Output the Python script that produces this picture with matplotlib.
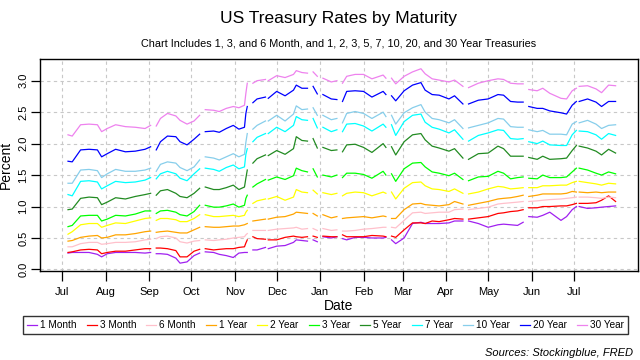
import matplotlib
matplotlib.use("Agg")
import matplotlib.pyplot as plt
import matplotlib.dates as mdates
import pandas as pd
import numpy as np

plt.rcParams['font.family'] = ['Liberation Sans', 'DejaVu Sans']

# sample dates (business days), segment by segment
dates = [
    "2016-07-05", "2016-07-08", "2016-07-14", "2016-07-20", "2016-07-26", "2016-07-29",
    "2016-08-02", "2016-08-08", "2016-08-15", "2016-08-22", "2016-08-29", "2016-09-02",
    "2016-09-06", "2016-09-09", "2016-09-14", "2016-09-20", "2016-09-23", "2016-09-28",
    "2016-10-03", "2016-10-07",
    "2016-10-11", "2016-10-17", "2016-10-21", "2016-10-26", "2016-10-31", "2016-11-04",
    "2016-11-08", "2016-11-09", "2016-11-10",
    "2016-11-14", "2016-11-17", "2016-11-23",
    "2016-11-25", "2016-12-01", "2016-12-07", "2016-12-13", "2016-12-15", "2016-12-19",
    "2016-12-23",
    "2016-12-27", "2016-12-30",
    "2017-01-03", "2017-01-09", "2017-01-13",
    "2017-01-17", "2017-01-20", "2017-01-26", "2017-02-01", "2017-02-07", "2017-02-15",
    "2017-02-17",
    "2017-02-21", "2017-02-24", "2017-03-02", "2017-03-08", "2017-03-14", "2017-03-17",
    "2017-03-22", "2017-03-27", "2017-04-03", "2017-04-07", "2017-04-13",
    "2017-04-17", "2017-04-24", "2017-05-01", "2017-05-08", "2017-05-12", "2017-05-17",
    "2017-05-22", "2017-05-26",
    "2017-05-30", "2017-06-05", "2017-06-09", "2017-06-14", "2017-06-22", "2017-06-26",
    "2017-06-30", "2017-07-03",
    "2017-07-05", "2017-07-11", "2017-07-17", "2017-07-21", "2017-07-26", "2017-07-31",
]

# market holidays -> no value, the line breaks there
holidays = ["2016-09-05", "2016-10-10", "2016-11-11", "2016-11-24", "2016-12-26",
            "2017-01-02", "2017-01-16", "2017-02-20", "2017-04-14", "2017-05-29",
            "2017-07-04"]

m1 = [.26, .27, .27, .27, .24, .20, .25, .27, .27, .27, .26, .27,
      .25, .25, .24, .18, .10, .12, .22, .26,
      .28, .27, .24, .22, .19, .26, .27, .27, .27,
      .31, .31, .35,
      .33, .37, .38, .43, .47, .46, .45,
      .47, .44,
      .52, .50, .52,
      .49, .47, .51, .51, .50, .50, .51,
      .47, .41, .50, .73, .75, .73, .73, .73, .74, .77, .77,
      .77, .73, .67, .71, .72, .71, .70, .75,
      .84, .83, .86, .91, .78, .84, .95, 1.00,
      1.00, .97, .98, .99, 1.00, 1.01]
m3 = [.27, .28, .31, .32, .31, .25, .27, .29, .29, .31, .33, .33,
      .34, .34, .33, .30, .20, .20, .29, .32,
      .33, .31, .32, .33, .33, .35, .36, .42, .47,
      .52, .49, .48,
      .47, .47, .51, .53, .52, .51, .52,
      .53, .51,
      .53, .52, .52,
      .55, .52, .52, .52, .54, .53, .52,
      .53, .51, .63, .74, .74, .73, .77, .76, .79, .81, .80,
      .80, .82, .84, .89, .90, .92, .93, .95,
      .98, .98, 1.00, 1.00, 1.01, 1.01, 1.03, 1.05,
      1.05, 1.05, 1.06, 1.10, 1.17, 1.08]
m6 = [.36, .36, .41, .43, .43, .40, .41, .43, .43, .44, .47, .48,
      .49, .52, .53, .50, .44, .42, .45, .46,
      .47, .46, .47, .48, .50, .51, .52, .55, .57,
      .62, .62, .62,
      .62, .64, .65, .66, .67, .64, .65,
      .65, .62,
      .65, .62, .63,
      .61, .61, .62, .64, .65, .67, .67,
      .67, .66, .78, .90, .91, .89, .90, .91, .91, .95, .96,
      .95, .97, .99, 1.04, 1.05, 1.06, 1.07, 1.08,
      1.08, 1.09, 1.10, 1.11, 1.12, 1.13, 1.14, 1.15,
      1.15, 1.15, 1.14, 1.13, 1.15, 1.14]
y1 = [.45, .46, .51, .53, .54, .50, .51, .55, .55, .57, .60, .61,
      .59, .60, .61, .59, .58, .58, .63, .67,
      .68, .67, .67, .68, .69, .69, .71, .72, .73,
      .77, .78, .80,
      .80, .83, .84, .88, .91, .90, .89,
      .89, .85,
      .87, .82, .84,
      .81, .82, .83, .84, .82, .85, .84,
      .81, .81, .95, 1.04, 1.05, 1.03, 1.02, 1.01, 1.03, 1.08, 1.04,
      1.02, 1.05, 1.08, 1.12, 1.13, 1.14, 1.16, 1.18,
      1.16, 1.18, 1.20, 1.20, 1.20, 1.21, 1.24, 1.23,
      1.23, 1.22, 1.23, 1.22, 1.23, 1.23]
y2 = [.56, .60, .71, .73, .73, .67, .70, .74, .73, .77, .81, .82,
      .78, .81, .81, .79, .76, .76, .81, .87,
      .87, .84, .84, .85, .86, .84, .86, .91, .94,
      1.05, 1.09, 1.12,
      1.12, 1.16, 1.10, 1.15, 1.27, 1.23, 1.22,
      1.26, 1.20,
      1.22, 1.19, 1.21,
      1.17, 1.21, 1.23, 1.22, 1.17, 1.23, 1.21,
      1.23, 1.12, 1.29, 1.38, 1.39, 1.33, 1.28, 1.27, 1.24, 1.28, 1.21,
      1.20, 1.23, 1.28, 1.32, 1.31, 1.28, 1.29, 1.30,
      1.30, 1.30, 1.33, 1.33, 1.34, 1.34, 1.38, 1.40,
      1.40, 1.38, 1.36, 1.34, 1.37, 1.36]
y3 = [.68, .70, .85, .86, .86, .77, .80, .86, .85, .88, .93, .93,
      .89, .93, .94, .91, .87, .85, .92, 1.02,
      1.02, .99, .99, 1.01, 1.04, .99, 1.02, 1.13, 1.18,
      1.31, 1.36, 1.43,
      1.42, 1.47, 1.43, 1.49, 1.61, 1.57, 1.55,
      1.60, 1.47,
      1.50, 1.47, 1.50,
      1.46, 1.53, 1.53, 1.51, 1.45, 1.56, 1.50,
      1.52, 1.40, 1.60, 1.69, 1.70, 1.63, 1.55, 1.53, 1.49, 1.53, 1.43,
      1.41, 1.47, 1.48, 1.56, 1.53, 1.44, 1.46, 1.47,
      1.45, 1.44, 1.50, 1.46, 1.46, 1.47, 1.55, 1.61,
      1.61, 1.58, 1.53, 1.50, 1.55, 1.52]
y5 = [.95, .96, 1.13, 1.15, 1.14, 1.03, 1.07, 1.14, 1.12, 1.16, 1.19, 1.21,
      1.18, 1.25, 1.27, 1.21, 1.16, 1.14, 1.21, 1.29,
      1.31, 1.27, 1.27, 1.30, 1.34, 1.27, 1.31, 1.45, 1.58,
      1.69, 1.76, 1.82,
      1.81, 1.89, 1.83, 1.92, 2.11, 2.05, 2.04,
      2.08, 1.93,
      1.94, 1.89, 1.90,
      1.87, 1.98, 1.99, 1.94, 1.86, 2.00, 1.94,
      1.95, 1.82, 2.03, 2.14, 2.16, 2.06, 1.96, 1.93, 1.88, 1.92, 1.77,
      1.75, 1.84, 1.85, 1.96, 1.92, 1.80, 1.80, 1.80,
      1.78, 1.75, 1.80, 1.75, 1.76, 1.77, 1.89, 1.97,
      1.96, 1.93, 1.88, 1.82, 1.91, 1.85]
y7 = [1.19, 1.17, 1.40, 1.41, 1.39, 1.28, 1.33, 1.40, 1.38, 1.39, 1.42, 1.46,
      1.44, 1.52, 1.56, 1.52, 1.45, 1.41, 1.52, 1.60,
      1.61, 1.59, 1.56, 1.62, 1.66, 1.60, 1.63, 1.83, 1.92,
      2.03, 2.10, 2.16,
      2.16, 2.26, 2.19, 2.29, 2.43, 2.38, 2.37,
      2.40, 2.25,
      2.26, 2.19, 2.22,
      2.19, 2.31, 2.32, 2.28, 2.20, 2.31, 2.26,
      2.30, 2.13, 2.35, 2.45, 2.47, 2.34, 2.26, 2.23, 2.17, 2.22, 2.07,
      2.04, 2.13, 2.17, 2.22, 2.21, 2.08, 2.07, 2.08,
      2.03, 2.00, 2.04, 1.98, 1.97, 1.97, 2.14, 2.21,
      2.20, 2.19, 2.14, 2.07, 2.16, 2.13]
y10 = [1.37, 1.37, 1.58, 1.59, 1.57, 1.46, 1.52, 1.59, 1.56, 1.56, 1.58, 1.61,
       1.56, 1.67, 1.71, 1.69, 1.62, 1.57, 1.63, 1.74,
       1.79, 1.77, 1.74, 1.79, 1.84, 1.79, 1.83, 2.02, 2.16,
       2.23, 2.29, 2.36,
       2.36, 2.45, 2.36, 2.47, 2.60, 2.54, 2.55,
       2.57, 2.45,
       2.45, 2.38, 2.40,
       2.33, 2.48, 2.51, 2.48, 2.40, 2.50, 2.43,
       2.45, 2.31, 2.49, 2.57, 2.62, 2.50, 2.40, 2.38, 2.33, 2.38, 2.24,
       2.25, 2.29, 2.33, 2.40, 2.39, 2.27, 2.26, 2.26,
       2.22, 2.19, 2.21, 2.15, 2.15, 2.14, 2.31, 2.35,
       2.33, 2.37, 2.31, 2.24, 2.29, 2.30]
y20 = [1.72, 1.71, 1.90, 1.91, 1.90, 1.79, 1.84, 1.91, 1.87, 1.88, 1.91, 1.95,
       1.90, 2.03, 2.12, 2.11, 2.03, 1.98, 2.07, 2.15,
       2.19, 2.20, 2.18, 2.24, 2.29, 2.23, 2.26, 2.48, 2.59,
       2.65, 2.71, 2.74,
       2.72, 2.83, 2.76, 2.85, 2.93, 2.88, 2.88,
       2.91, 2.79,
       2.78, 2.71, 2.70,
       2.67, 2.83, 2.84, 2.83, 2.74, 2.83, 2.78,
       2.76, 2.68, 2.84, 2.93, 2.97, 2.85, 2.78, 2.77, 2.71, 2.76, 2.63,
       2.63, 2.69, 2.71, 2.78, 2.77, 2.67, 2.66, 2.66,
       2.59, 2.56, 2.56, 2.52, 2.49, 2.47, 2.61, 2.67,
       2.67, 2.71, 2.66, 2.59, 2.67, 2.67]
y30 = [2.14, 2.12, 2.30, 2.31, 2.30, 2.19, 2.24, 2.30, 2.27, 2.26, 2.24, 2.29,
       2.28, 2.40, 2.48, 2.44, 2.37, 2.31, 2.36, 2.45,
       2.54, 2.53, 2.51, 2.56, 2.59, 2.57, 2.61, 2.80, 2.96,
       2.96, 3.00, 3.02,
       3.00, 3.08, 3.05, 3.10, 3.16, 3.13, 3.12,
       3.14, 3.07,
       3.04, 2.98, 3.00,
       2.96, 3.07, 3.10, 3.10, 3.03, 3.09, 3.04,
       3.04, 2.95, 3.07, 3.14, 3.19, 3.11, 3.03, 3.01, 2.98, 3.01, 2.91,
       2.89, 2.96, 3.00, 3.03, 3.02, 2.96, 2.95, 2.95,
       2.86, 2.84, 2.88, 2.80, 2.72, 2.71, 2.84, 2.88,
       2.91, 2.92, 2.87, 2.81, 2.93, 2.92]

labels = ["1 Month", "3 Month", "6 Month", "1 Year", "2 Year", "3 Year",
          "5 Year", "7 Year", "10 Year", "20 Year", "30 Year"]
colors = ["#A020F0", "#FF0000", "#FFC0CB", "#FFA500", "#FFFF00", "#00FF00",
          "#228B22", "#00FFFF", "#87CEEB", "#0000FF", "#EE82EE"]
series = [m1, m3, m6, y1, y2, y3, y5, y7, y10, y20, y30]
month_ticks = pd.date_range("2016-07-01", "2017-07-01", freq="MS")

df = pd.DataFrame(dict(zip(labels, series)), index=pd.to_datetime(dates))
df = df.reindex(df.index.union(pd.to_datetime(holidays)))

fig = plt.figure(figsize=(6.4, 3.6), dpi=100)
ax = fig.add_axes([40 / 640, 1 - 270.7 / 360, 598 / 640, 211.7 / 360])

for name, c in zip(labels, colors):
    ax.plot(df.index, df[name], color=c, lw=0.9, label=name)

ax.set_xlim(pd.Timestamp("2016-06-15"), pd.Timestamp("2017-08-16"))
ax.set_ylim(-0.02, 3.345)
ax.set_yticks(np.arange(0, 3.01, 0.5))
ax.yaxis.set_major_formatter(matplotlib.ticker.FormatStrFormatter("%.1f"))
ax.set_xticks(month_ticks)
ax.xaxis.set_major_formatter(mdates.DateFormatter("%b"))
ax.grid(True, color="#c8c8c8", linestyle=(0, (3, 3)), lw=0.8)
ax.tick_params(axis="x", length=7.5, width=0.9, labelsize=8, pad=4)
ax.tick_params(axis="y", length=6.5, width=0.9, labelsize=8, labelrotation=90, pad=2)
for lab in ax.get_yticklabels():
    lab.set_verticalalignment("center")
for s in ax.spines.values():
    s.set_linewidth(1.0)
ax.set_xlabel("Date", fontsize=10, labelpad=2)
ax.set_ylabel("Percent", fontsize=10, labelpad=4)

fig.text(339 / 640, 1 - 18 / 360, "US Treasury Rates by Maturity", ha="center", va="center", fontsize=12.5)
fig.text(339 / 640, 1 - 44 / 360,
         "Chart Includes 1, 3, and 6 Month, and 1, 2, 3, 5, 7, 10, 20, and 30 Year Treasuries",
         ha="center", va="center", fontsize=7.8)

leg = fig.legend(loc="center", ncol=11, mode="expand",
                 bbox_to_anchor=(18 / 640, 1 - 334 / 360, 615 / 640, 18 / 360),
                 fontsize=7.2, handlelength=1.0, handletextpad=0.3, columnspacing=0.5,
                 frameon=True, fancybox=False, borderpad=0.4)
leg.get_frame().set_edgecolor("black")
leg.get_frame().set_linewidth(1.0)

fig.text(633 / 640, 1 - 353 / 360, "Sources: Stockingblue, FRED", ha="right", va="center",
         fontsize=8, style="italic")

fig.savefig("out.png", dpi=100)
